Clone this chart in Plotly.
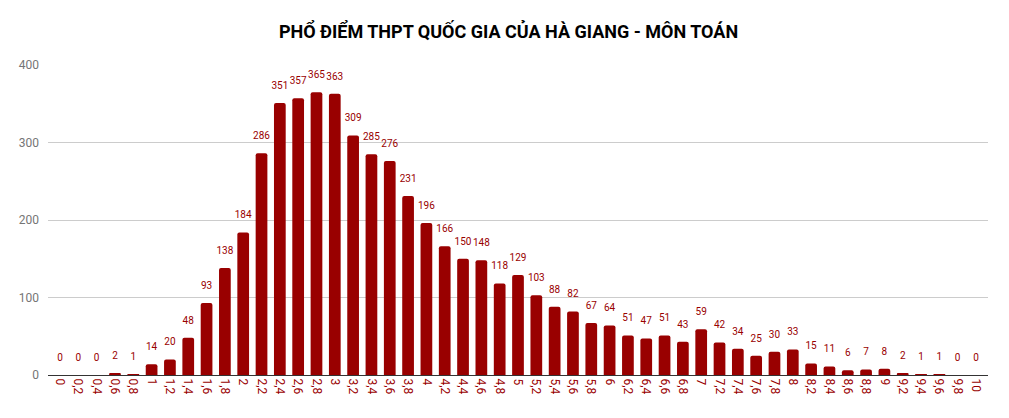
import plotly.graph_objects as go

categories = ["0", "0,2", "0,4", "0,6", "0,8", "1", "1,2", "1,4", "1,6", "1,8",
              "2", "2,2", "2,4", "2,6", "2,8", "3", "3,2", "3,4", "3,6", "3,8",
              "4", "4,2", "4,4", "4,6", "4,8", "5", "5,2", "5,4", "5,6", "5,8",
              "6", "6,2", "6,4", "6,6", "6,8", "7", "7,2", "7,4", "7,6", "7,8",
              "8", "8,2", "8,4", "8,6", "8,8", "9", "9,2", "9,4", "9,6", "9,8", "10"]
counts = [0, 0, 0, 2, 1, 14, 20, 48, 93, 138,
          184, 286, 351, 357, 365, 363, 309, 285, 276, 231,
          196, 166, 150, 148, 118, 129, 103, 88, 82, 67,
          64, 51, 47, 51, 43, 59, 42, 34, 25, 30,
          33, 15, 11, 6, 7, 8, 2, 1, 1, 0, 0]
y_ticks = [0, 100, 200, 300, 400]

bar_color = "#990000"

fig = go.Figure()
fig.add_trace(go.Bar(
    x=categories, y=counts,
    marker=dict(color=bar_color, line=dict(width=0), cornerradius=2),
    hoverinfo="x+y",
))
fig.add_trace(go.Scatter(
    x=categories, y=counts,
    mode="markers+text",
    marker=dict(size=17, color="rgba(0,0,0,0)"),
    text=[str(v) for v in counts],
    textposition="top center",
    textfont=dict(color=bar_color, size=10, family="Roboto"),
    cliponaxis=False,
    hoverinfo="skip",
))

# page body has an 8px default margin, so the figure is sized to fit inside it
fig.update_layout(
    width=1001, height=410,
    paper_bgcolor="white", plot_bgcolor="white",
    margin=dict(l=40, r=21, t=57, b=43, autoexpand=False),
    bargap=0.36,
    showlegend=False,
    font=dict(family="Roboto"),
    title=dict(text="<b>PHỔ ĐIỂM THPT QUỐC GIA CỦA HÀ GIANG - MÔN TOÁN</b>",
               x=0.5, xanchor="center", y=1 - 24 / 410, yref="container",
               yanchor="middle",
               font=dict(size=18, color="#000000", family="Roboto")),
    xaxis=dict(type="category", tickangle=90, automargin=False,
               tickfont=dict(color=bar_color, size=12, family="Roboto"),
               showgrid=False, showline=True, linecolor="#333333", linewidth=1,
               ticks="", ticklen=0, range=[-0.655, len(categories) - 1 + 0.655]),
    yaxis=dict(range=[0, 400], tickvals=y_ticks, automargin=False,
               tickfont=dict(color="#757575", size=12, family="Roboto"),
               gridcolor="#cccccc", gridwidth=1, zeroline=False,
               showline=False, ticks="", ticklabelstandoff=8),
)

fig.write_html("out.html")
